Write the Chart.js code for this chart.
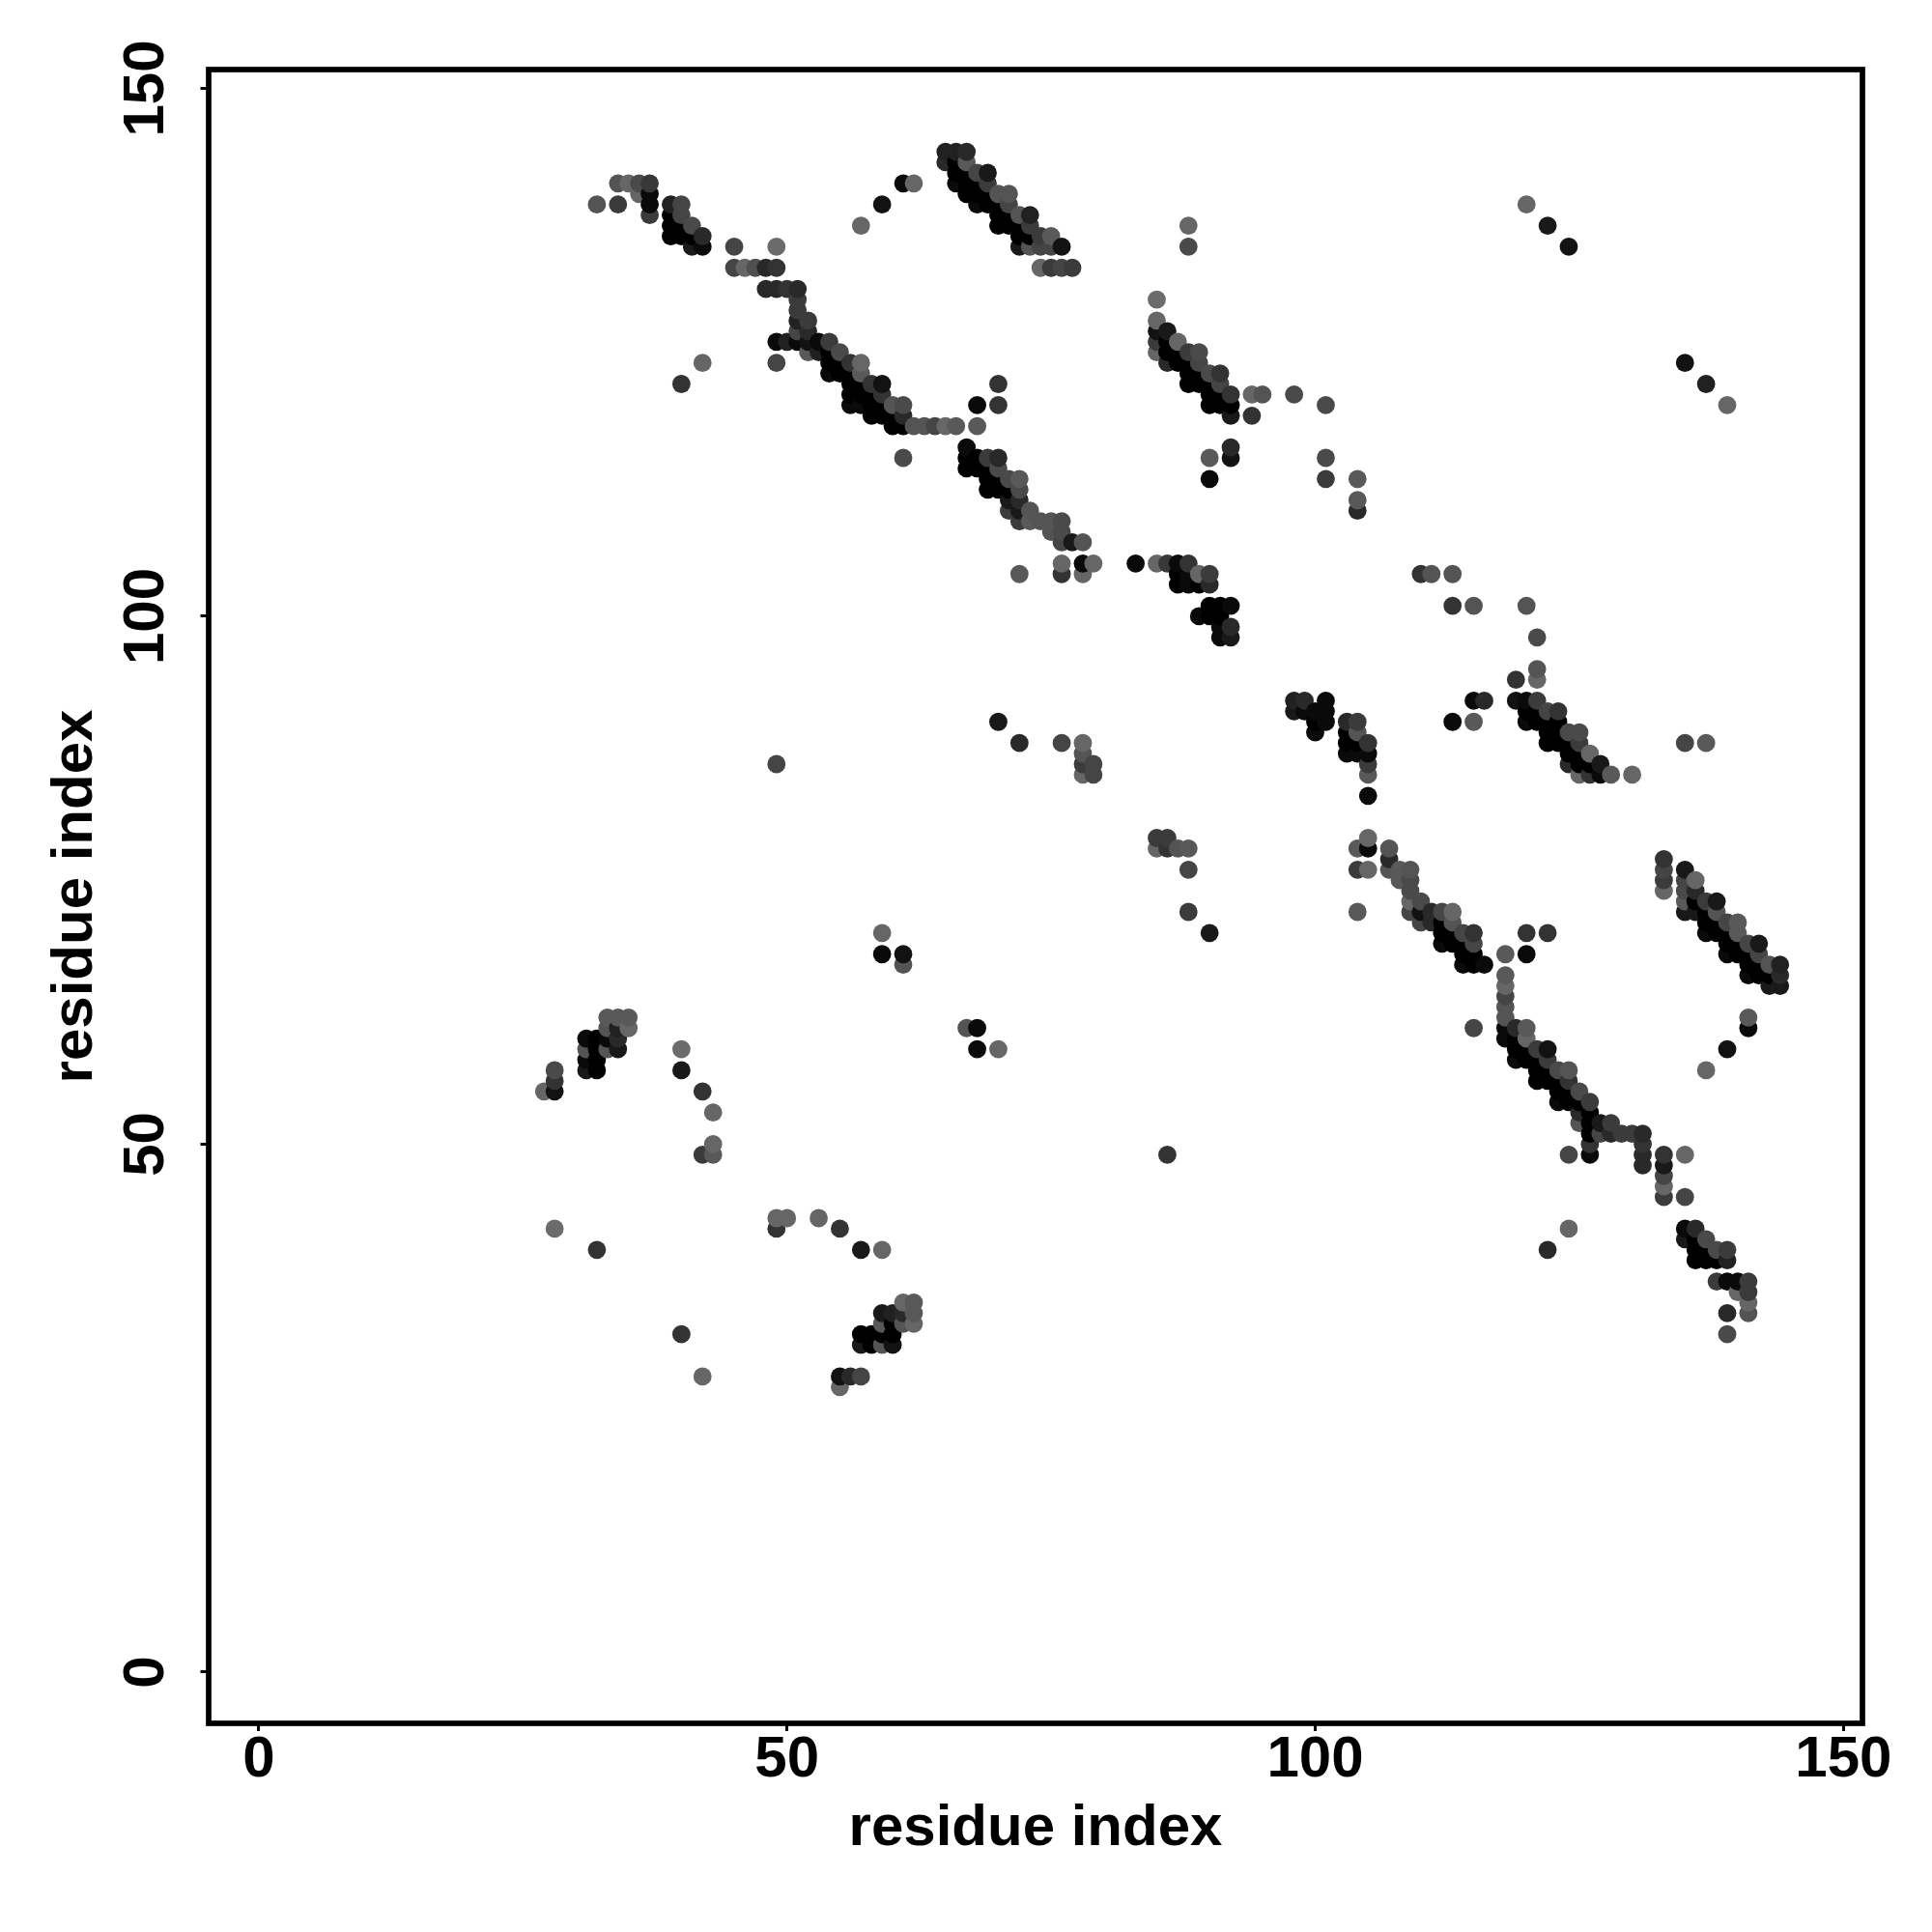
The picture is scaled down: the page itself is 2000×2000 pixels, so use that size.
<!DOCTYPE html>
<html>
<head>
<meta charset="utf-8">
<title>residue contacts</title>
<script src="https://cdn.jsdelivr.net/npm/chart.js@4/dist/chart.umd.min.js"></script>
<style>
  body { margin: 0; background: #fff; }
  canvas { display: block; }
</style>
</head>
<body>
<canvas id="contactMap" width="2000" height="2000"></canvas>
<script>
const xTickValues = [0, 50, 100, 150];
const yTickValues = [0, 50, 100, 150];
const axisLabel = 'residue index';

// one line per residue i, the three lists line up entry by entry
const residueI = [
  27,
  28,28,28,28,
  31,31,31,31,
  32,32,32,32,32,32,
  33,33,33,33,
  34,34,34,34,34,34,
  35,35,35,
  36,36,
  37,37,37,37,
  39,39,39,39,
  40,40,40,40,40,40,40,40,
  41,41,41,
  42,42,42,42,42,42,
  43,43,43,
  45,45,
  46,
  47,
  48,48,
  49,49,49,49,49,49,49,49,
  50,50,50,
  51,51,51,51,51,51,
  52,52,52,52,
  53,53,53,
  54,54,54,54,
  55,55,55,55,55,55,
  56,56,56,56,56,56,
  57,57,57,57,57,57,57,57,57,57,
  58,58,58,58,58,58,
  59,59,59,59,59,59,59,59,59,59,59,59,
  60,60,60,60,60,60,60,
  61,61,61,61,61,61,61,61,61,61,
  62,62,62,62,62,
  63,
  64,
  65,65,65,
  66,66,66,66,66,
  67,67,67,67,67,67,67,67,67,
  68,68,68,68,68,68,68,68,68,68,
  69,69,69,69,69,69,69,69,
  70,70,70,70,70,70,70,70,70,70,70,70,
  71,71,71,71,71,71,71,71,
  72,72,72,72,72,72,72,72,72,72,72,
  73,73,73,73,73,73,
  74,74,74,74,
  75,75,75,75,75,
  76,76,76,76,76,76,76,76,
  77,77,
  78,78,78,78,78,78,78,
  79,79,79,
  83,
  85,85,85,85,85,85,85,85,
  86,86,86,86,86,86,86,86,
  87,87,87,87,87,87,87,
  88,88,88,88,88,88,88,88,88,88,88,88,
  89,89,89,89,89,89,89,
  90,90,90,90,90,90,90,90,90,90,90,
  91,91,91,91,91,91,91,91,
  92,92,92,92,92,92,92,92,
  94,94,
  95,
  98,98,98,
  99,99,
  100,100,100,
  101,101,101,101,101,101,
  103,103,103,103,
  104,104,104,104,104,104,104,104,104,104,
  105,105,105,105,105,105,105,105,
  107,107,107,
  108,108,
  109,109,109,109,109,
  110,110,110,110,
  111,111,111,
  112,112,112,112,
  113,113,113,113,113,113,113,
  114,114,114,114,
  115,115,115,115,115,115,115,115,
  116,116,
  118,118,118,118,118,118,118,118,
  119,119,119,119,119,119,
  120,120,120,120,120,120,120,120,120,120,120,
  121,121,121,121,121,121,121,121,121,121,
  122,122,122,122,122,122,122,122,122,122,122,
  123,123,123,123,123,123,123,123,
  124,124,124,124,124,124,124,124,124,124,124,
  125,125,125,125,125,125,125,125,125,
  126,126,126,126,126,126,126,126,126,
  127,127,127,127,
  128,128,128,
  129,
  130,130,
  131,131,131,131,
  133,133,133,133,133,133,133,133,133,
  135,135,135,135,135,135,135,135,135,135,135,
  136,136,136,136,136,136,136,136,
  137,137,137,137,137,137,137,137,137,137,
  138,138,138,138,138,138,138,
  139,139,139,139,139,139,139,139,139,139,139,
  140,140,140,140,140,140,
  141,141,141,141,141,141,141,141,141,141,
  142,142,142,142,
  143,143,143,
  144,144,144
];
const residueJ = [
  55,
  42,55,56,57,
  57,58,59,60,
  40,57,58,59,60,139,
  59,60,61,62,
  59,60,61,62,139,141,
  61,62,141,
  140,141,
  138,139,140,141,
  136,137,138,139,
  32,57,59,122,136,137,138,139,
  135,136,137,
  28,49,55,124,135,136,
  49,50,53,
  133,135,
  133,
  133,
  131,133,
  42,43,86,124,126,131,133,135,
  43,126,131,
  126,127,128,129,130,131,
  125,126,127,128,
  43,125,126,
  123,124,125,126,
  27,28,42,123,124,125,
  28,120,121,122,123,124,
  28,31,32,40,120,121,122,123,124,137,
  31,32,119,120,121,122,
  31,32,33,34,40,68,70,119,120,121,122,139,
  31,32,33,34,118,119,120,
  33,34,35,67,68,115,118,119,120,141,
  33,34,35,118,141,
  118,
  118,
  118,143,144,
  118,141,142,143,144,
  61,114,115,116,140,141,142,143,144,
  59,61,114,115,118,120,139,140,141,142,
  112,113,114,115,139,140,141,142,
  59,90,112,113,114,115,120,122,137,138,139,140,
  110,111,112,113,137,138,139,140,
  88,104,109,110,111,112,113,135,136,137,138,
  109,110,135,136,137,138,
  109,133,135,136,
  108,109,133,135,136,
  88,104,105,107,108,109,133,135,
  107,133,
  85,86,87,88,104,105,107,
  85,86,105,
  105,
  78,79,105,125,126,127,128,130,
  49,78,79,105,124,125,126,127,
  78,103,104,105,124,125,126,
  72,76,78,103,104,105,122,123,124,125,135,137,
  100,103,104,122,123,124,125,
  70,100,101,103,104,113,115,120,121,122,123,
  98,99,100,101,120,121,122,123,
  98,99,101,115,116,119,120,121,
  119,121,
  121,
  91,92,121,
  91,92,
  89,90,91,
  90,91,92,113,115,120,
  87,88,89,90,
  72,76,78,87,88,89,90,110,111,113,
  76,78,79,83,85,86,87,88,
  76,77,78,
  75,76,
  72,73,74,75,76,
  71,72,73,104,
  71,72,104,
  69,70,71,72,
  69,70,71,72,90,101,104,
  67,68,69,70,
  61,67,68,69,70,90,92,101,
  67,92,
  60,61,62,63,64,65,66,68,
  58,59,60,61,92,94,
  58,59,60,61,68,70,90,91,92,101,139,
  56,57,58,59,90,91,92,94,95,98,
  40,56,57,58,59,70,88,89,90,91,137,
  54,55,56,57,88,89,90,91,
  42,49,54,55,56,57,86,87,88,89,135,
  52,53,54,55,85,86,87,88,89,
  49,50,51,52,53,54,85,86,87,
  51,52,85,86,
  51,52,85,
  51,
  51,85,
  48,49,50,51,
  45,46,47,48,49,74,75,76,77,
  41,42,45,49,72,73,74,75,76,88,124,
  39,40,41,42,72,73,74,75,
  39,40,41,57,70,71,72,73,88,122,
  37,39,40,70,71,72,73,
  32,34,37,39,40,59,68,69,70,71,120,
  36,37,68,69,70,71,
  34,35,36,37,61,62,66,67,68,69,
  66,67,68,69,
  65,66,67,
  65,66,67
];
const contactScore = [
  .60,
  .58,.93,.80,.71,
  .90,.96,.67,.96,
  .80,1,1,1,1,.67,
  .67,.96,.67,.65,
  .90,.84,.87,.65,.77,.67,
  .60,.65,.60,
  .60,.71,
  .77,.96,.96,.78,
  1,1,1,.87,
  .80,.90,.58,.80,1,1,.73,.73,
  .90,1,.71,
  .60,.77,.80,.60,.96,.84,
  .65,.60,.60,
  .73,.73,
  .60,
  .69,
  .84,.84,
  .80,.60,.73,.73,.96,.84,.80,.58,
  .60,.87,.80,
  .96,.73,.87,.77,.77,.84,
  .65,.93,.84,.77,
  .60,.87,.96,
  .96,1,1,.77,
  .60,.93,.80,1,1,.71,
  .84,.96,1,1,1,.80,
  .73,.90,1,.90,.96,1,1,.65,.60,.60,
  1,1,1,1,1,.80,
  .67,1,.65,.90,.60,.96,.60,1,1,.80,.93,.93,
  .93,1,1,.87,1,1,.67,
  .67,.84,.60,.67,.93,.71,1,.84,.71,.96,
  .60,.65,.65,.67,.60,
  .67,
  .73,
  .60,.84,.87,
  .65,.96,1,1,.87,
  .67,1,1,.96,1,1,1,.65,.84,
  .96,.96,1,1,.65,.96,.96,1,1,.73,
  1,1,1,.77,1,1,.77,.90,
  .60,.90,1,1,.71,.84,.80,.80,1,1,1,.67,
  .77,.90,1,.71,1,1,.73,.67,
  .84,.65,.77,.90,.84,.71,.65,.90,1,1,.67,
  .65,.67,.67,1,.77,.87,
  .67,.60,.73,.77,
  .67,.67,.77,.73,.65,
  .73,.80,.60,.73,.71,.71,.73,.93,
  .90,.77,
  .60,.77,.67,.60,.60,.96,.67,
  .73,.73,.60,
  .96,
  .60,.77,.60,.60,.77,.93,.60,.58,
  .80,.80,.77,.78,.84,1,1,.90,
  .67,1,1,.96,1,1,.60,
  .77,.73,.65,.96,.96,.80,1,1,1,.77,.71,.60,
  .96,1,.60,1,1,.73,.71,
  .90,1,1,.84,.77,.96,.65,1,1,1,.71,
  .96,.96,1,1,1,1,.73,.80,
  .90,.84,.96,.93,.84,.90,1,.80,
  .80,.60,
  .67,
  .90,.87,.71,
  .96,.84,
  .96,1,.96,
  .96,.96,.96,.77,.71,.71,
  .96,1,1,.84,
  .65,.77,.65,.96,1,.67,.77,.84,.65,.65,
  .60,.96,.60,.96,.65,.77,.96,.80,
  .67,.84,.67,
  .65,.65,
  .73,.60,.71,.71,.67,
  .73,.93,.71,.80,
  .84,.84,.67,
  .96,1,1,.73,
  1,1,.67,.60,.96,.80,.67,
  .96,1,1,.73,
  .73,1,1,.73,.80,.65,.96,.67,
  .96,.84,
  .96,.96,.67,.67,.73,.60,.65,.65,
  .96,1,1,.84,.93,.80,
  1,1,.60,.65,.96,.80,.96,1,.96,.67,.60,
  1,1,1,.77,1,1,.77,.60,.67,.71,
  .84,1,1,.77,.93,.80,1,1,1,.73,.90,
  .96,1,1,.71,1,1,1,.80,
  .60,.73,1,1,.80,.67,.84,1,1,.71,.93,
  .67,.84,1,.71,.60,1,1,.77,.71,
  .96,.80,1,1,1,.77,.80,1,.60,
  .73,.90,.96,.90,
  .84,.77,.65,
  .77,
  .77,.60,
  .84,.84,.80,.84,
  .77,.60,.73,.90,.80,.60,.77,.73,.80,
  .90,.96,.73,.60,.90,.65,.71,.73,.90,.73,.93,
  1,1,1,.84,.90,1,.84,.60,
  1,1,.71,.60,.96,1,1,.77,.65,.87,
  .77,1,.71,1,1,.67,.90,
  .71,.84,.96,.87,.77,.93,.96,1,1,.73,.60,
  .60,.96,1,1,.65,.65,
  .67,.60,.77,.77,.96,.65,.96,1,1,.73,
  1,1,.73,.90,
  .90,1,.67,
  .90,.84,.87
];

const points = residueI.map((x, i) => ({ x: x, y: residueJ[i] }));

function shadeFor(score) {
    const g = Math.round(255 * (1 - score));
    return `rgb(${g},${g},${g})`;
}

const BOLD = '"Liberation Sans", Arial, sans-serif';

// R style box and rotated y tick labels, chart.js will not rotate those itself
const frameAndLabels = {
    id: 'frameAndLabels',
    afterDraw(chart) {
        const { ctx, chartArea, scales } = chart;
        ctx.save();
        ctx.strokeStyle = '#000';
        ctx.lineWidth = 5.7;
        ctx.lineJoin = 'miter';
        ctx.strokeRect(chartArea.left, chartArea.top, chartArea.width, chartArea.height);
        ctx.fillStyle = '#000';
        ctx.font = 'bold 60px ' + BOLD;
        ctx.textAlign = 'center';
        ctx.textBaseline = 'middle';
        yTickValues.forEach(v => {
            ctx.save();
            ctx.translate(150, scales.y.getPixelForValue(v));
            ctx.rotate(-Math.PI / 2);
            ctx.fillText(String(v), 0, 2);
            ctx.restore();
        });
        ctx.restore();
    }
};

new Chart(document.getElementById('contactMap').getContext('2d'), {
    type: 'scatter',
    data: {
        datasets: [{
            data: points,
            pointRadius: 9.4,
            pointBorderWidth: 0,
            pointBackgroundColor: c => shadeFor(contactScore[c.dataIndex])
        }]
    },
    options: {
        responsive: false,
        animation: false,
        layout: { padding: { top: 72, right: 72 } },
        plugins: { legend: { display: false }, tooltip: { enabled: false } },
        scales: {
            x: {
                type: 'linear',
                min: -4.75,
                max: 151.8,
                afterBuildTicks: s => { s.ticks = xTickValues.map(v => ({ value: v })); },
                afterFit: s => { s.height = 216; },
                grid: { drawOnChartArea: false, tickLength: 8, tickWidth: 3, tickColor: '#000' },
                border: { display: false },
                ticks: { color: '#000', font: { family: BOLD, size: 60, weight: 'bold' }, padding: -6, maxRotation: 0 },
                title: {
                    display: true, text: axisLabel, color: '#000',
                    font: { family: BOLD, size: 60, weight: 'bold' },
                    padding: { top: 0, bottom: 71 }
                }
            },
            y: {
                type: 'linear',
                min: -4.85,
                max: 151.78,
                afterBuildTicks: s => { s.ticks = yTickValues.map(v => ({ value: v })); },
                afterFit: s => { s.width = 216; },
                grid: { drawOnChartArea: false, tickLength: 8.5, tickWidth: 3, tickColor: '#000' },
                border: { display: false },
                ticks: { display: false },
                title: {
                    display: true, text: axisLabel, color: '#000',
                    font: { family: BOLD, size: 60, weight: 'bold' },
                    padding: { top: 42, bottom: 0 }
                }
            }
        }
    },
    plugins: [frameAndLabels]
});
</script>
</body>
</html>
